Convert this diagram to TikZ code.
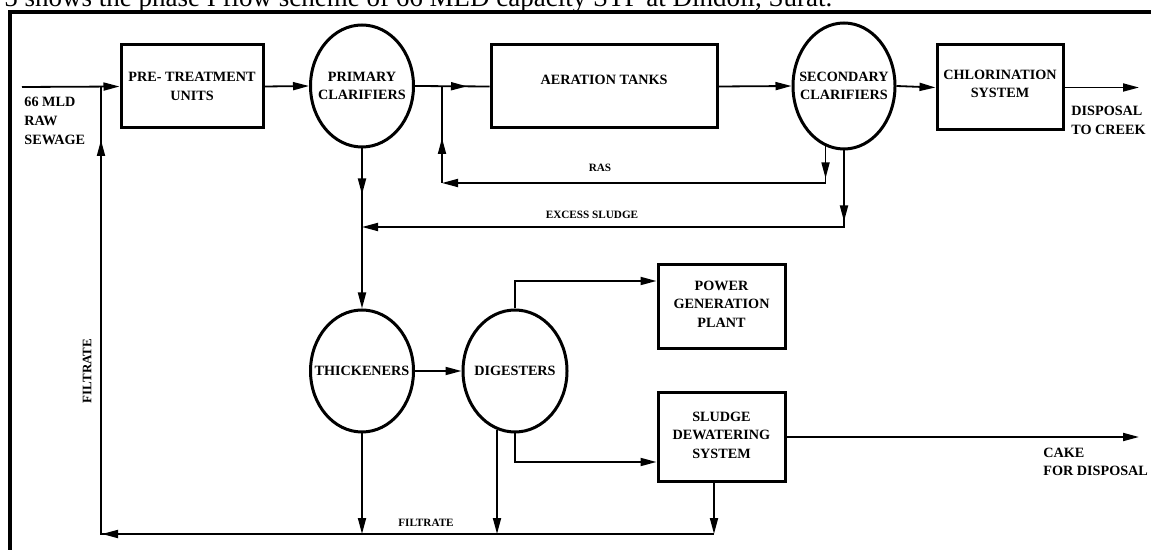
\documentclass[tikz,border=0pt]{standalone}
\usepackage{fontspec}
\setmainfont{Liberation Serif}
\usetikzlibrary{arrows.meta,shapes.geometric,decorations.markings}

\begin{document}
\begin{tikzpicture}[x=0.5pt,y=-0.5pt,
    unit/.style={draw,line width=1.5pt,rectangle,inner sep=0pt,align=center,font=\bfseries\fontsize{7.1}{9.3}\selectfont},
    tank/.style={draw,line width=1.5pt,ellipse,inner xsep=-25pt,inner ysep=-15pt,minimum width=51.5pt,minimum height=61pt,align=center,font=\bfseries\fontsize{7.1}{9.3}\selectfont},
    lbl/.style={align=left,inner sep=0pt,font=\bfseries\fontsize{7.1}{9.3}\selectfont},
    small/.style={inner sep=0pt,font=\bfseries\fontsize{5.6}{7}\selectfont},
    pipe/.style={line width=0.9pt},
    flow/.style={pipe,-{Triangle[length=8pt,width=4pt]}},
    mid tip/.style={postaction={decorate,decoration={markings,mark=at position #1 with {\arrow{Triangle[length=8pt,width=4pt]}}}}}]
    \useasboundingbox (0,0) rectangle (1151,550);
    \clip (0,0) rectangle (1151,550);
    \node[anchor=base west,inner sep=0pt,font=\fontsize{13.5}{16}\selectfont] (caption) at (4,7) {5 shows the phase I flow scheme of 66 MLD capacity STP at Dindoli, Surat.};
    \draw[line width=2pt] (1160,12) -| (10,560);

    \node[unit,minimum width=71pt,minimum height=41.5pt] (pre) at (192,86.5) {PRE- TREATMENT\\UNITS};
    \node[tank] (pc) at (362,86) {PRIMARY\\CLARIFIERS};
    \node[unit,minimum width=113pt,minimum height=41.5pt,text depth=6.5pt] (aer) at (604,86.5) {AERATION TANKS};
    \node[tank,minimum width=51pt,minimum height=63pt] (sc) at (844,86) {SECONDARY\\CLARIFIERS};
    \node[unit,minimum width=63pt,minimum height=42.5pt,text depth=3.5pt] (chl) at (1000,87.5) {CHLORINATION\\SYSTEM};
    \node[tank] (th) at (362,371) {THICKENERS};
    \node[tank,minimum width=52pt] (dg) at (515,371) {DIGESTERS};
    \node[unit,minimum width=63.5pt,minimum height=42pt,text depth=3pt] (pw) at (721.5,307) {POWER\\GENERATION\\PLANT};
    \node[unit,minimum width=63.5pt,minimum height=44pt,text depth=2pt] (sd) at (721.5,437) {SLUDGE\\DEWATERING\\SYSTEM};

    \node[lbl,anchor=west] (raw) at (24,121) {66 MLD\\RAW\\SEWAGE};
    \node[lbl,anchor=west] (creek) at (1071,120.5) {DISPOSAL\\TO CREEK};
    \node[lbl,anchor=west] (cake) at (1043,462) {CAKE\\FOR DISPOSAL};
    \node[small] (ras) at (600,168) {RAS};
    \node[small] (excess) at (592,215) {EXCESS SLUDGE};
    \node[small] (filt) at (426,523) {FILTRATE};
    \node[small,rotate=90,font=\bfseries\fontsize{6.5}{8}\selectfont] (filtv) at (87,371) {FILTRATE};

    \coordinate (in) at (22,87);
    \coordinate (inj) at (101,87);
    \coordinate (rasj) at (442,87);
    \coordinate (rasb) at (442,183);
    \coordinate (exj) at (362,227);
    \coordinate (fl) at (101,534);
    \coordinate (fsd) at (714,534);
    \coordinate (outend) at (1139,87.5);
    \coordinate (cakeend) at (1139,437);

    \draw[flow] (in) -- (pre.west);
    \draw[flow] (pre.east) -- (pc.west);
    \draw[pipe,mid tip=26pt] (pc.east) -- (aer.west);
    \draw[flow] (aer.east) -- (sc.west);
    \draw[flow] (sc.east) -- (chl.west);
    \draw[flow] (chl.east) -- (outend);
    \draw[flow,mid tip=16pt] (sc.253) |- (rasb);
    \draw[pipe,mid tip=22.5pt] (rasb) -- (rasj);
    \draw[flow,mid tip=35.5pt] (sc.south) |- (exj);
    \draw[flow,mid tip=23pt] (pc.south) -- (th.north);
    \draw[flow] (th.east) -- (dg.west);
    \draw[flow] (th.south) -- (th.south |- fl);
    \draw[flow] (dg.253) -- (dg.253 |- fl);
    \draw[flow] (dg.north) |- ([yshift=13pt]pw.west);
    \draw[flow] (dg.south) |- ([yshift=-12.5pt]sd.west);
    \draw[flow] ([xshift=-3.75pt]sd.south) -- (fsd);
    \draw[pipe,mid tip=306pt,mid tip=503.5pt] (fsd) -- (fl) -- (inj);
    \draw[flow] (sd.east) -- (cakeend);
\end{tikzpicture}
\end{document}
